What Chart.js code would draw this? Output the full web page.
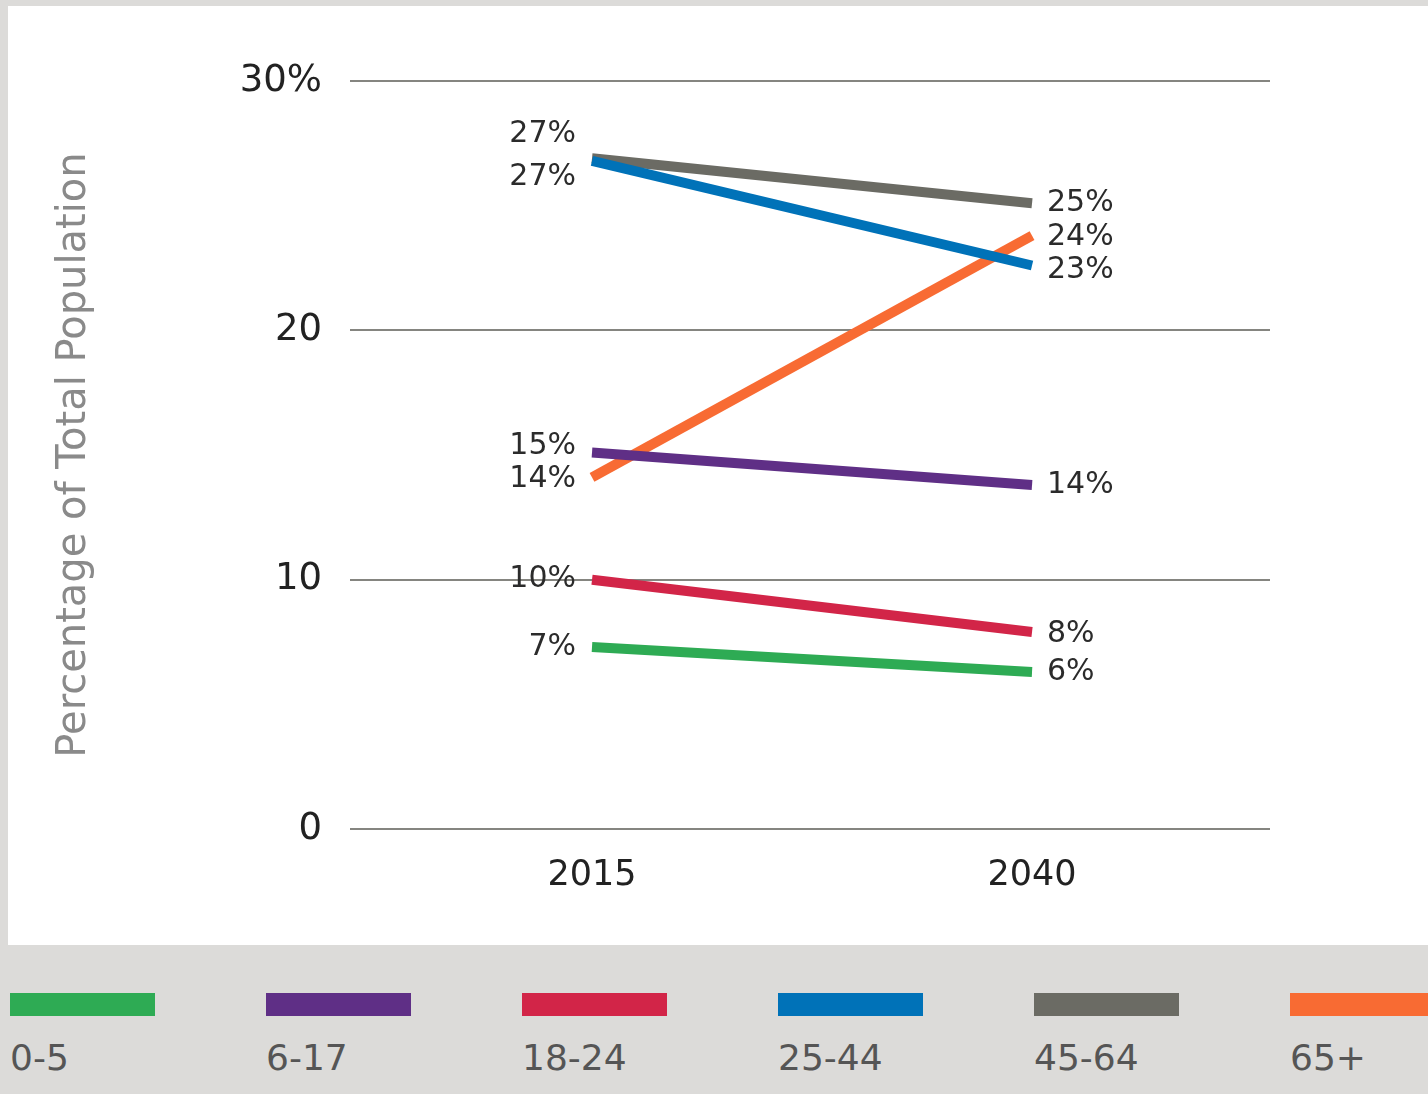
<!DOCTYPE html>
<html>
<head>
<meta charset="utf-8">
<script src="https://cdn.jsdelivr.net/npm/chart.js@4"></script>
<style>
  body { margin: 0; background: #dcdbd9; width: 1428px; height: 1094px; overflow: hidden; font-family: "DejaVu Sans", sans-serif; }
  #panel { position: absolute; left: 8px; top: 6px; width: 1420px; height: 939px; background: #fff; }
  #legend { position: absolute; left: 10px; top: 993px; }
  .item { position: absolute; top: 0; }
  .swatch { width: 145px; height: 23px; }
  .name { margin-top: 21px; font-size: 36px; color: #555; white-space: nowrap; }
</style>
</head>
<body>
<div id="panel"><canvas id="chart" width="1420" height="939"></canvas></div>
<div id="legend"></div>
<script>
// Share of total population by age group
const years = [2015, 2040];
const groups = ['0-5', '6-17', '18-24', '25-44', '45-64', '65+'];
const age0to5 = [7.3, 6.3];
const age6to17 = [15.1, 13.8];
const age18to24 = [10.0, 7.9];
const age25to44 = [26.8, 22.6];
const age45to64 = [26.9, 25.1];
const age65plus = [14.1, 23.8];
const yTicks = [0, 10, 20, 30];

const colors = ['#2eab54', '#5f2f86', '#d22548', '#0072b8', '#6b6b64', '#f86b33'];
const series = [age0to5, age6to17, age18to24, age25to44, age45to64, age65plus];

// vertical nudges for value labels so they don't collide: [left, right]
const labelNudge = [[0, 0], [-6, 0], [0, 2], [16, 5], [-24, 0], [2, 2]];

const datasets = series.map((vals, i) => ({
    label: groups[i],
    data: vals.map((v, j) => ({ x: years[j], y: v })),
    borderColor: colors[i],
    backgroundColor: colors[i],
    borderWidth: 10,
    borderCapStyle: 'butt',
    pointRadius: 0,
    tension: 0
}));

// draw the percentage next to each end of every line
const endLabels = {
    id: 'endLabels',
    afterDatasetsDraw(chart) {
        const ctx = chart.ctx;
        ctx.save();
        ctx.font = '30px "DejaVu Sans"';
        ctx.fillStyle = '#2b2b2b';
        ctx.textBaseline = 'middle';
        chart.data.datasets.forEach((ds, i) => {
            const pts = chart.getDatasetMeta(i).data;
            pts.forEach((pt, j) => {
                const text = Math.round(ds.data[j].y) + '%';
                if (j === 0) {
                    ctx.textAlign = 'right';
                    ctx.fillText(text, pt.x - 16, pt.y + labelNudge[i][0]);
                } else {
                    ctx.textAlign = 'left';
                    ctx.fillText(text, pt.x + 15, pt.y + labelNudge[i][1]);
                }
            });
        });
        ctx.restore();
    }
};

new Chart(document.getElementById('chart'), {
    type: 'line',
    data: { datasets: datasets },
    options: {
        responsive: false,
        animation: false,
        layout: { padding: { top: 75, right: 158, bottom: 0, left: 0 } },
        plugins: { legend: { display: false }, tooltip: { enabled: false } },
        scales: {
            x: {
                type: 'linear',
                min: 2001.25,
                max: 2053.52,
                afterBuildTicks: axis => { axis.ticks = years.map(v => ({ value: v })); },
                afterFit: axis => { axis.height = 116; },
                grid: { display: false },
                border: { display: false },
                ticks: {
                    padding: 18,
                    color: '#222',
                    font: { family: 'DejaVu Sans', size: 35 },
                    callback: v => String(v)
                }
            },
            y: {
                min: 0,
                max: 30,
                afterBuildTicks: axis => { axis.ticks = yTicks.map(v => ({ value: v })); },
                afterFit: axis => { axis.width = 342; },
                grid: { color: '#858580', lineWidth: 2, drawTicks: false },
                border: { display: false },
                ticks: {
                    padding: 28,
                    color: '#222',
                    font: { family: 'DejaVu Sans', size: 37 },
                    callback: v => v === 30 ? '30%' : String(v)
                },
                title: {
                    display: true,
                    text: 'Percentage of Total Population',
                    color: '#8a8a8a',
                    font: { family: 'DejaVu Sans', size: 40 },
                    padding: { top: 43, bottom: 0 }
                }
            }
        }
    },
    plugins: [endLabels]
});

// legend strip under the chart
const legend = document.getElementById('legend');
groups.forEach((g, i) => {
    const item = document.createElement('div');
    item.className = 'item';
    item.style.left = (i * 256) + 'px';
    item.innerHTML = '<div class="swatch" style="background:' + colors[i] + '"></div><div class="name">' + g + '</div>';
    legend.appendChild(item);
});
</script>
</body>
</html>
